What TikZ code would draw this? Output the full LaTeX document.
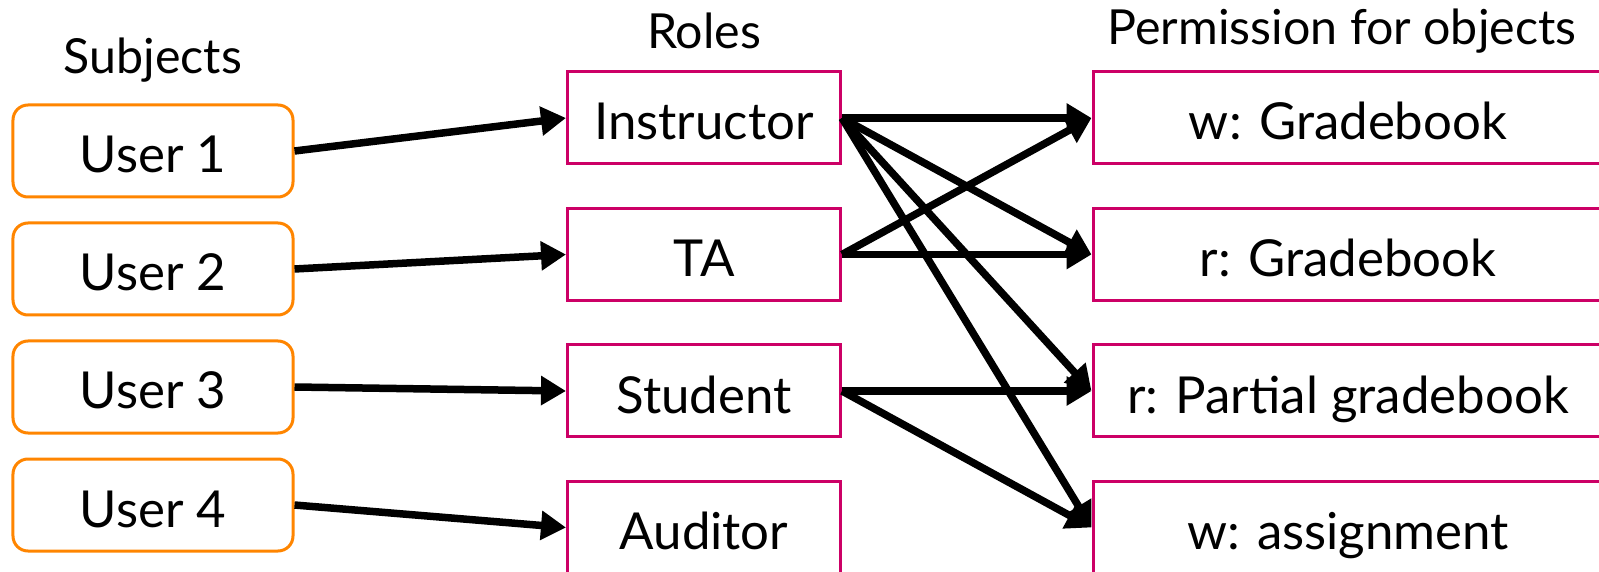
\documentclass[tikz,border=0pt]{standalone}
\usepackage{fontspec}
\setmainfont{Lato}
\usepackage{tikz}
\usetikzlibrary{arrows.meta, positioning}
\usepackage{xcolor}
\definecolor{userorange}{RGB}{255,133,0}
\definecolor{rolepink}{RGB}{204,0,102}

\begin{document}
\begin{tikzpicture}[
    node distance=0.46cm and 1cm,
    user/.style={rectangle, rounded corners=0.3cm, draw=userorange, line width=0.06cm, minimum width=5.6cm, minimum height=1.84cm, text height=0.88cm, text depth=0cm, font=\fontsize{29}{34}\selectfont},
    role/.style={rectangle, draw=rolepink, line width=0.06cm, minimum width=5.46cm, minimum height=1.84cm, text height=0.88cm, text depth=0cm, font=\fontsize{29}{34}\selectfont},
    perm/.style={role, minimum width=10.2cm},
    head/.style={font=\fontsize{27.5}{33}\selectfont},
    link/.style={-{Triangle[length=0.5cm, width=0.56cm]}, line width=0.15cm, black}]
\clip (0,0) rectangle (31.98,-11.44);
% subjects
\node[user] (u1) at (3.06,-3.02) {User 1};
\node[user, below=of u1] (u2) {User 2};
\node[user, below=of u2] (u3) {User 3};
\node[user, below=of u3] (u4) {User 4};
\node[head] (hsubj) at (3.06,-1.2) {Subjects};
% roles
\node[role] (instr) at (14.08,-2.36) {Instructor};
\node[role, below=0.83cm of instr] (ta) {TA};
\node[role, below=0.83cm of ta] (stud) {Student};
\node[role, below=0.83cm of stud] (aud) {Auditor};
\node[head] (hrole) at (14.08,-0.62) {Roles};
% permissions
\node[perm] (wgrade) at (26.96,-2.36) {w: Gradebook};
\node[perm, below=0.83cm of wgrade] (rgrade) {r: Gradebook};
\node[perm, below=0.83cm of rgrade] (rpart) {r: Partial gradebook};
\node[perm, below=0.83cm of rpart] (wassign) {w: assignment};
\node[head] (hperm) at (26.84,-0.62) {Permission for objects};
% links
\draw[link] (u1.east) -- (instr.west);
\draw[link] (u2.east) -- (ta.west);
\draw[link] (u3.east) -- (stud.west);
\draw[link] (u4.east) -- (aud.west);
\foreach \dest in {wgrade,rgrade,rpart,wassign}
    \draw[link] (instr.east) -- (\dest.west);
\foreach \dest in {wgrade,rgrade}
    \draw[link] (ta.east) -- (\dest.west);
\foreach \dest in {rpart,wassign}
    \draw[link] (stud.east) -- (\dest.west);
\end{tikzpicture}
\end{document}
